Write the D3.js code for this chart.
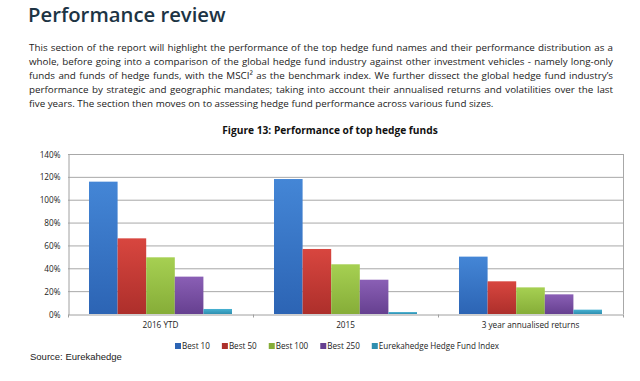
<!DOCTYPE html>
<html>
<head>
<meta charset="utf-8">
<script src="https://cdn.jsdelivr.net/npm/d3@7/dist/d3.min.js"></script>
<style>
  html, body { margin: 0; padding: 0; background: #fff; }
  svg { display: block; }
</style>
</head>
<body>
<svg id="chart" width="640" height="381"></svg>
<script>
// ---- data ----
const categories = ["2016 YTD", "2015", "3 year annualised returns"];
const seriesNames = ["Best 10", "Best 50", "Best 100", "Best 250", "Eurekahedge Hedge Fund Index"];
const best10  = [115.8, 118.1, 50.2];
const best50  = [66.2, 56.9, 28.6];
const best100 = [49.6, 43.5, 23.3];
const best250 = [32.7, 30.0, 17.2];
const ehfi    = [4.4, 1.7, 3.8];
const yTicks  = [0, 20, 40, 60, 80, 100, 120, 140];
const titleText = "Performance review";
const figureTitle = "Figure 13: Performance of top hedge funds";
const sourceText = "Source: Eurekahedge";
const paragraphLines = [
  "This section of the report will highlight the performance of the top hedge fund names and their performance distribution as a",
  "whole, before going into a comparison of the global hedge fund industry against other investment vehicles - namely long-only",
  "funds and funds of hedge funds, with the MSCI\u00B2 as the benchmark index. We further dissect the global hedge fund industry\u2019s",
  "performance by strategic and geographic mandates; taking into account their annualised returns and volatilities over the last",
  "five years. The section then moves on to assessing hedge fund performance across various fund sizes."
];

const seriesValues = [best10, best50, best100, best250, ehfi];
const colors = [
  ["#4486d6", "#2c64b4"],
  ["#d8463f", "#ad2f2b"],
  ["#a6d052", "#86ad38"],
  ["#8a5fb5", "#664090"],
  ["#47b2d2", "#2f8fb0"]
];

const svg = d3.select("#chart");
const FONT = "'Open Sans', 'Noto Sans', sans-serif";

// ---- header ----
svg.append("text")
  .attr("x", 28).attr("y", 22)
  .attr("font-family", FONT).attr("font-size", 20.3).attr("font-weight", 600)
  .attr("fill", "#1d3444")
  .text(titleText);

const pLeft = 29, pRight = 613, pWidth = pRight - pLeft;
paragraphLines.forEach((line, i) => {
  const t = svg.append("text")
    .attr("x", pLeft).attr("y", 51 + i * 13.9)
    .attr("font-family", FONT).attr("font-size", 9.8)
    .attr("fill", "#222")
    .attr("xml:space", "preserve")
    .text(line);
  if (i < paragraphLines.length - 1) {
    const natural = t.node().getComputedTextLength();
    const spaces = (line.match(/ /g) || []).length;
    t.attr("word-spacing", (pWidth - natural) / spaces);
  }
});

svg.append("text")
  .attr("x", 330).attr("y", 134)
  .attr("text-anchor", "middle")
  .attr("font-family", FONT).attr("font-size", 10.2).attr("font-weight", 700)
  .attr("fill", "#111")
  .text(figureTitle);

// ---- chart ----
const plot = { left: 68, right: 623, top: 154, bottom: 314 };

const x0 = d3.scaleBand().domain(categories).range([plot.left, plot.right]).padding(0);
const groupPad = x0.bandwidth() * 0.1135;
const x1 = d3.scaleBand().domain(seriesNames)
  .range([groupPad, x0.bandwidth() - groupPad]).padding(0);
const y = d3.scaleLinear().domain([0, 140]).range([plot.bottom, plot.top]);

// gradients
const defs = svg.append("defs");
colors.forEach((c, i) => {
  const g = defs.append("linearGradient").attr("id", "g" + i)
    .attr("x1", 0).attr("y1", 0).attr("x2", 0).attr("y2", 1);
  g.append("stop").attr("offset", "0%").attr("stop-color", c[0]);
  g.append("stop").attr("offset", "100%").attr("stop-color", c[1]);
});

// gridlines
svg.append("g").selectAll("line").data(yTicks.filter(d => d > 0)).join("line")
  .attr("x1", plot.left).attr("x2", plot.right)
  .attr("y1", d => y(d) + 0.5).attr("y2", d => y(d) + 0.5)
  .attr("stroke", "#a8a8a8").attr("stroke-width", 1);

// right frame
svg.append("line")
  .attr("x1", plot.right + 0.5).attr("x2", plot.right + 0.5)
  .attr("y1", plot.top).attr("y2", plot.bottom)
  .attr("stroke", "#a8a8a8");

// y axis
const yAxis = d3.axisLeft(y).tickValues(yTicks).tickSize(0).tickPadding(8)
  .tickFormat(d => d + "%");
const yg = svg.append("g").attr("transform", `translate(${plot.left + 0.5},0.5)`).call(yAxis);
yg.select(".domain").attr("stroke", "#a0a0a0");
yg.selectAll("text").attr("font-family", FONT).attr("font-size", 8.2).attr("fill", "#222");

// bars
const groups = svg.append("g").selectAll("g").data(categories).join("g")
  .attr("transform", d => `translate(${x0(d)},0)`);
groups.selectAll("rect")
  .data((d, ci) => seriesNames.map((s, si) => ({ s, si, v: seriesValues[si][ci] })))
  .join("rect")
  .attr("x", d => x1(d.s))
  .attr("width", x1.bandwidth())
  .attr("y", d => y(d.v))
  .attr("height", d => y(0) - y(d.v))
  .attr("fill", d => `url(#g${d.si})`);

// x axis
const xAxis = d3.axisBottom(x0).tickSize(0).tickPadding(8);
const xg = svg.append("g").attr("transform", `translate(0,${plot.bottom + 0.5})`).call(xAxis);
xg.select(".domain").attr("stroke", "#a0a0a0");
xg.selectAll("text").attr("font-family", FONT).attr("font-size", 8.2).attr("fill", "#222");
// boundary ticks
const bounds = categories.map(c => x0(c)).concat([plot.right]);
xg.selectAll(".bnd").data(bounds).join("line").attr("class", "bnd")
  .attr("x1", d => Math.round(d) + 0.5).attr("x2", d => Math.round(d) + 0.5)
  .attr("y1", 0).attr("y2", 3).attr("stroke", "#a0a0a0");

// legend
const lg = svg.append("g").attr("transform", "translate(175,349)");
let lx = 0;
seriesNames.forEach((s, i) => {
  lg.append("rect").attr("x", lx).attr("y", -6).attr("width", 6).attr("height", 6)
    .attr("fill", colors[i][1]);
  const t = lg.append("text").attr("x", lx + 7).attr("y", 0)
    .attr("font-family", FONT).attr("font-size", 8.1).attr("fill", "#222").text(s);
  lx += 7 + t.node().getComputedTextLength() + 12;
});

// source
svg.append("text")
  .attr("x", 30).attr("y", 360)
  .attr("font-family", "'Liberation Sans', Arial, sans-serif").attr("font-size", 9.5)
  .attr("fill", "#222")
  .text(sourceText);
</script>
</body>
</html>
